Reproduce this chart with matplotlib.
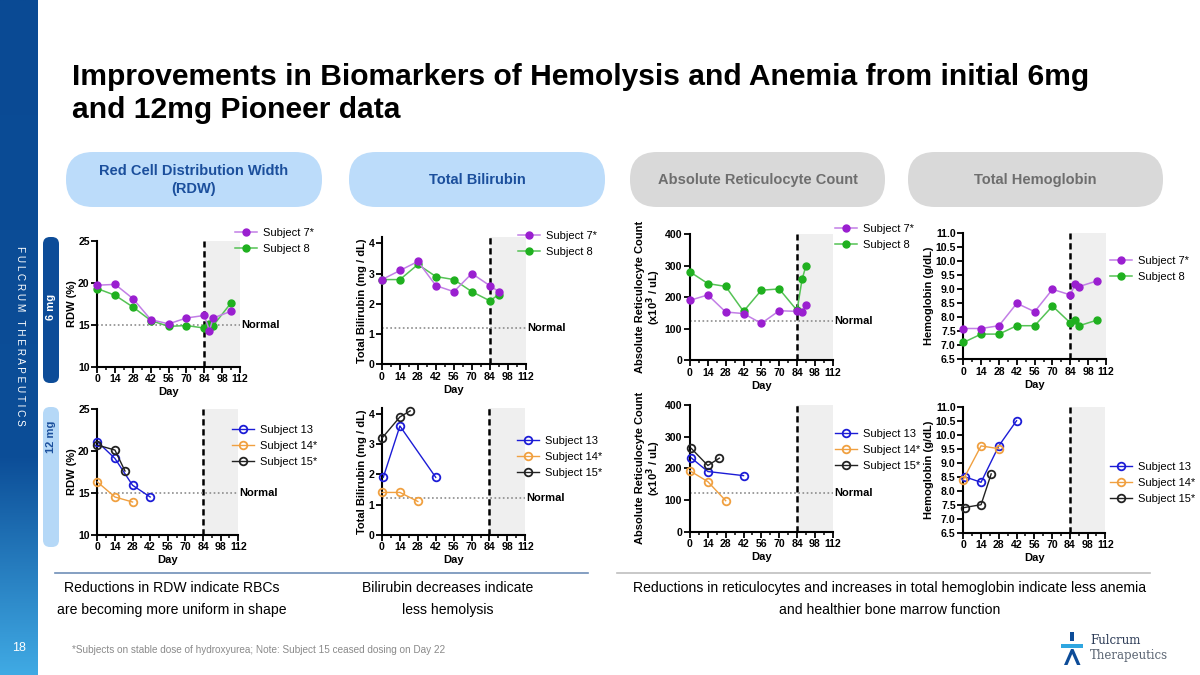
import matplotlib
matplotlib.use("Agg")
import matplotlib.pyplot as plt
import numpy as np
from matplotlib.patches import FancyBboxPatch, Rectangle, Polygon

plt.rcParams['font.family'] = ['Liberation Sans', 'DejaVu Sans']

# ---------------- data ----------------
day_ticks = [0, 14, 28, 42, 56, 70, 84, 98, 112]

# 6 mg cohort
rdw6_days = [0, 14, 28, 42, 56, 70, 84, 88, 91, 105]
rdw6_s7 = [19.7, 19.8, 18.1, 15.6, 15.1, 15.8, 16.1, 14.3, 15.8, 16.6]
rdw6_s8 = [19.3, 18.5, 17.1, 15.5, 14.8, 14.9, 14.6, 15.1, 14.9, 17.6]

bili6_days = [0, 14, 28, 42, 56, 70, 84, 91]
bili6_s7 = [2.8, 3.1, 3.4, 2.6, 2.4, 3.0, 2.6, 2.4]
bili6_s8 = [2.8, 2.8, 3.3, 2.9, 2.8, 2.4, 2.1, 2.3]

retic6_days = [0, 14, 28, 42, 56, 70, 84, 88, 91]
retic6_s7 = [190, 207, 153, 148, 117, 157, 155, 152, 176]
retic6_s8 = [280, 243, 234, 155, 222, 226, 158, 257, 299]

hgb6_days = [0, 14, 28, 42, 56, 70, 84, 88, 91, 105]
hgb6_s7 = [7.6, 7.6, 7.7, 8.5, 8.2, 9.0, 8.8, 9.2, 9.1, 9.3]
hgb6_s8 = [7.1, 7.4, 7.4, 7.7, 7.7, 8.4, 7.8, 7.9, 7.7, 7.9]

# 12 mg cohort
rdw12_s13_days = [0, 14, 28, 42]
rdw12_s13 = [21.1, 19.1, 15.9, 14.5]
rdw12_s14_days = [0, 14, 28]
rdw12_s14 = [16.3, 14.5, 13.9]
rdw12_s15_days = [0, 14, 22]
rdw12_s15 = [20.7, 20.1, 17.6]

bili12_s13_days = [1, 14, 42]
bili12_s13 = [1.9, 3.6, 1.9]
bili12_s14_days = [0, 14, 28]
bili12_s14 = [1.4, 1.4, 1.1]
bili12_s15_days = [0, 14, 22]
bili12_s15 = [3.2, 3.9, 4.1]

retic12_s13_days = [1, 14, 42]
retic12_s13 = [233, 190, 177]
retic12_s14_days = [0, 14, 28]
retic12_s14 = [192, 158, 98]
retic12_s15_days = [1, 14, 23]
retic12_s15 = [263, 209, 232]

hgb12_s13_days = [1, 14, 28, 42]
hgb12_s13 = [8.5, 8.3, 9.6, 10.5]
hgb12_s14_days = [0, 14, 28]
hgb12_s14 = [8.4, 9.6, 9.5]
hgb12_s15_days = [1, 14, 22]
hgb12_s15 = [7.4, 7.5, 8.6]

normal_rdw = 15
normal_bili = 1.2
normal_retic = 123

labels6 = ["Subject 7*", "Subject 8"]
labels12 = ["Subject 13", "Subject 14*", "Subject 15*"]

C_PURPLE = "#9a1fd0"
C_PURPLE_L = "#c27ee6"
C_GREEN = "#1fb01f"
C_GREEN_L = "#55c255"
C_BLUE = "#1c1cd6"
C_ORANGE = "#f0a040"
C_BLACK = "#222222"

W, H = 1200, 675
fig = plt.figure(figsize=(12, 6.75), dpi=100)
fig.patch.set_facecolor("white")

# background axes in pixel coords
bg = fig.add_axes([0, 0, 1, 1], zorder=0)
bg.axis("off")

# left strip gradient
top = np.array([10, 74, 148]) / 255.0
mid = np.array([12, 78, 152]) / 255.0
bot = np.array([64, 170, 228]) / 255.0
cols = np.zeros((300, 1, 3))
for i in range(300):
    t = i / 299
    if t < 0.68:
        c = top + (mid - top) * (t / 0.68)
    else:
        c = mid + (bot - mid) * ((t - 0.68) / 0.32)
    cols[i, 0] = c
bg.imshow(cols, extent=[0, 38, H, 0], aspect="auto", zorder=1)
bg.set_xlim(0, W)
bg.set_ylim(H, 0)

bg.text(20, 336, "F U L C R U M   T H E R A P E U T I C S", rotation=-90,
        color="white", fontsize=7.2, ha="center", va="center", zorder=3)
bg.text(19, 648, "18", color="white", fontsize=9, ha="center", va="center", zorder=3)

# dose boxes
bg.add_patch(FancyBboxPatch((43, 237), 16, 146, boxstyle="round,pad=0,rounding_size=7",
                            fc="#0d4c98", ec="none", zorder=2))
bg.text(51, 307, "6 mg", rotation=90, color="white", fontsize=8, fontweight="bold",
        ha="center", va="center", zorder=3)
bg.add_patch(FancyBboxPatch((43, 407), 16, 140, boxstyle="round,pad=0,rounding_size=7",
                            fc="#b5d8f7", ec="none", zorder=2))
bg.text(51, 437, "12 mg", rotation=90, color="#1b4f9c", fontsize=8, fontweight="bold",
        ha="center", va="center", zorder=3)

# title
bg.text(72, 77, "Improvements in Biomarkers of Hemolysis and Anemia from initial 6mg",
        fontsize=21.6, fontweight="bold", color="black", ha="left", va="center")
bg.text(72, 110, "and 12mg Pioneer data",
        fontsize=21.6, fontweight="bold", color="black", ha="left", va="center")

# pills
pills = [
    (66, 322, "#bcdcfa", "#1b4f9c", "Red Cell Distribution Width\n(RDW)"),
    (349, 605, "#bcdcfa", "#1b4f9c", "Total Bilirubin"),
    (630, 885, "#d9d9d9", "#6e6e6e", "Absolute Reticulocyte Count"),
    (908, 1163, "#d9d9d9", "#6e6e6e", "Total Hemoglobin"),
]
for x0, x1, fc, tc, txt in pills:
    bg.add_patch(FancyBboxPatch((x0, 152), x1 - x0, 55,
                                boxstyle="round,pad=0,rounding_size=27",
                                fc=fc, ec="none", zorder=2))
    bg.text((x0 + x1) / 2, 180, txt, fontsize=10.5, fontweight="bold", color=tc,
            ha="center", va="center", linespacing=1.35, zorder=3)

# separator lines
bg.plot([55, 588], [573, 573], color="#6f8fb8", lw=1.2)
bg.plot([617, 1150], [573, 573], color="#bfbfbf", lw=1.2)

# bottom texts
FS_B = 10.1
bg.text(172, 588, "Reductions in RDW indicate RBCs", fontsize=FS_B, ha="center", va="center")
bg.text(172, 610, "are becoming more uniform in shape", fontsize=FS_B, ha="center", va="center")
bg.text(448, 588, "Bilirubin decreases indicate", fontsize=FS_B, ha="center", va="center")
bg.text(448, 610, "less hemolysis", fontsize=FS_B, ha="center", va="center")
bg.text(890, 588, "Reductions in reticulocytes and increases in total hemoglobin indicate less anemia",
        fontsize=FS_B, ha="center", va="center")
bg.text(890, 610, "and healthier bone marrow function", fontsize=FS_B, ha="center", va="center")
bg.text(72, 650, "*Subjects on stable dose of hydroxyurea; Note: Subject 15 ceased dosing on Day 22",
        fontsize=7.2, color="#8a8a8a", ha="left", va="center")

# logo
bg.add_patch(Rectangle((1070, 632), 3.5, 9, fc="#0d4c98", ec="none"))
bg.add_patch(Rectangle((1061, 644), 22, 3.5, fc="#2fa6e0", ec="none"))
bg.add_patch(Polygon([[1064, 665], [1071, 649], [1073.5, 649], [1080.5, 665], [1077, 665],
                      [1072.2, 654], [1067.5, 665]], closed=True, fc="#0d4c98", ec="none"))
bg.text(1090, 641, "Fulcrum", fontsize=8.5, family="DejaVu Serif", color="#2b3a55",
        ha="left", va="center")
bg.text(1090, 656, "Therapeutics", fontsize=8.5, family="DejaVu Serif", color="#5a6472",
        ha="left", va="center")


def make_ax(x0, x1, ytop, ybot, ylim, yticks, ylabel):
    ax = fig.add_axes([x0 / W, 1 - ybot / H, (x1 - x0) / W, (ybot - ytop) / H], zorder=5)
    ax.patch.set_alpha(0)
    ax.set_xlim(0, 112)
    ax.set_ylim(*ylim)
    ax.set_xticks(day_ticks)
    ax.set_xticks(np.arange(7, 112, 14), minor=True)
    ax.set_yticks(yticks)
    for s in ["top", "right"]:
        ax.spines[s].set_visible(False)
    for s in ["left", "bottom"]:
        ax.spines[s].set_linewidth(1.5)
    ax.tick_params(which="major", length=4, width=1.3, labelsize=7.6, pad=1.5)
    ax.tick_params(which="minor", length=2.5, width=1.1)
    for lab in ax.get_xticklabels() + ax.get_yticklabels():
        lab.set_fontweight("bold")
    ax.set_xlabel("Day", fontsize=8, fontweight="bold", labelpad=2)
    ax.set_ylabel(ylabel, fontsize=8, fontweight="bold", labelpad=1, linespacing=1.0)
    ax.axvspan(84, 112, color="#efefef", zorder=0, lw=0)
    ax.axvline(84, color="black", ls=(0, (2.5, 1.5)), lw=1.8, zorder=1)
    return ax


def normal_line(ax, y):
    ax.axhline(y, color="#8c8c8c", ls=(0, (1, 1.5)), lw=1.2, zorder=1)
    ax.text(1.01, y, "Normal", transform=ax.get_yaxis_transform(), fontsize=8,
            fontweight="bold", ha="left", va="center")


def plot6(ax, days, s7, s8):
    ax.plot(days, s7, color=C_PURPLE_L, lw=1.1, marker="o", ms=5, mfc=C_PURPLE,
            mec=C_PURPLE, clip_on=False, zorder=4, label=labels6[0])
    ax.plot(days, s8, color=C_GREEN_L, lw=1.1, marker="o", ms=5, mfc=C_GREEN,
            mec=C_GREEN, clip_on=False, zorder=3, label=labels6[1])


def plot12(ax, d13, v13, d14, v14, d15, v15):
    ax.plot(d13, v13, color=C_BLUE, lw=1.0, marker="o", ms=5.5, mfc="none",
            mew=1.3, clip_on=False, zorder=4, label=labels12[0])
    ax.plot(d14, v14, color=C_ORANGE, lw=1.0, marker="o", ms=5.5, mfc="none",
            mew=1.3, clip_on=False, zorder=4, label=labels12[1])
    ax.plot(d15, v15, color=C_BLACK, lw=1.0, marker="o", ms=5.5, mfc="none",
            mew=1.3, clip_on=False, zorder=4, label=labels12[2])


def legend_at(ax, x, yfirst):
    ax.legend(loc="upper left", bbox_to_anchor=(x / W, 1 - (yfirst - 7) / H),
              bbox_transform=fig.transFigure, frameon=False, fontsize=8,
              borderpad=0, borderaxespad=0, handlelength=2.0, handletextpad=0.5,
              labelspacing=0.55)


def hgb_fmt(ax):
    ax.yaxis.set_major_formatter(matplotlib.ticker.FormatStrFormatter("%.1f"))
    for lab in ax.get_yticklabels():
        lab.set_fontweight("bold")


retic_label = "Absolute Reticulocyte Count\n(x10$^\\mathbf{3}$ / uL)"

# ---- 6 mg row ----
ax = make_ax(97.3, 240, 240.7, 366.7, (10, 25), [10, 15, 20, 25], "RDW (%)")
normal_line(ax, normal_rdw)
plot6(ax, rdw6_days, rdw6_s7, rdw6_s8)
legend_at(ax, 235, 235)

ax = make_ax(382, 525.7, 237.2, 364.3, (0, 4.2), [0, 1, 2, 3, 4], "Total Bilirubin (mg / dL)")
normal_line(ax, normal_bili)
plot6(ax, bili6_days, bili6_s7, bili6_s8)
legend_at(ax, 518, 238)

ax = make_ax(690, 832.7, 234, 360.3, (0, 400), [0, 100, 200, 300, 400], retic_label)
normal_line(ax, normal_retic)
plot6(ax, retic6_days, retic6_s7, retic6_s8)
legend_at(ax, 835, 231)

ax = make_ax(963.3, 1106, 233.3, 359.3, (6.5, 11), np.arange(6.5, 11.01, 0.5), "Hemoglobin (g/dL)")
hgb_fmt(ax)
plot6(ax, hgb6_days, hgb6_s7, hgb6_s8)
legend_at(ax, 1110, 263)

# ---- 12 mg row ----
ax = make_ax(97.3, 238.3, 409, 534.7, (10, 25), [10, 15, 20, 25], "RDW (%)")
normal_line(ax, normal_rdw)
plot12(ax, rdw12_s13_days, rdw12_s13, rdw12_s14_days, rdw12_s14, rdw12_s15_days, rdw12_s15)
legend_at(ax, 232, 432)

ax = make_ax(382, 525.3, 407.9, 534.7, (0, 4.2), [0, 1, 2, 3, 4], "Total Bilirubin (mg / dL)")
normal_line(ax, normal_bili)
plot12(ax, bili12_s13_days, bili12_s13, bili12_s14_days, bili12_s14, bili12_s15_days, bili12_s15)
legend_at(ax, 517, 443)

ax = make_ax(690, 832.7, 405, 531.7, (0, 400), [0, 100, 200, 300, 400], retic_label)
normal_line(ax, normal_retic)
plot12(ax, retic12_s13_days, retic12_s13, retic12_s14_days, retic12_s14, retic12_s15_days, retic12_s15)
legend_at(ax, 835, 436)

ax = make_ax(963.3, 1105.3, 406.7, 532.7, (6.5, 11), np.arange(6.5, 11.01, 0.5), "Hemoglobin (g/dL)")
hgb_fmt(ax)
plot12(ax, hgb12_s13_days, hgb12_s13, hgb12_s14_days, hgb12_s14, hgb12_s15_days, hgb12_s15)
legend_at(ax, 1110, 469)

fig.savefig("out.png", dpi=100)
